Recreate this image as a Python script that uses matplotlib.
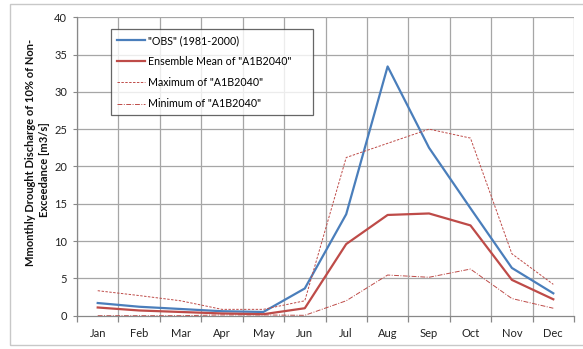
import matplotlib
matplotlib.use("Agg")
import matplotlib.pyplot as plt
from matplotlib.patches import Rectangle

plt.rcParams['font.family'] = ['Lato', 'DejaVu Sans']

months = ["Jan", "Feb", "Mar", "Apr", "May", "Jun", "Jul", "Aug", "Sep", "Oct", "Nov", "Dec"]
obs = [1.7, 1.2, 0.9, 0.6, 0.5, 3.65, 13.6, 33.4, 22.5, 14.4, 6.4, 3.0]
ens_mean = [1.1, 0.7, 0.5, 0.3, 0.2, 1.0, 9.6, 13.5, 13.7, 12.1, 4.8, 2.2]
ens_max = [3.35, 2.7, 2.0, 0.85, 0.85, 2.0, 21.2, 23.1, 25.0, 23.8, 8.3, 4.2]
ens_min = [0.0, 0.0, 0.0, 0.1, 0.1, 0.05, 2.0, 5.45, 5.15, 6.25, 2.3, 1.0]

W, H = 583, 349
fig = plt.figure(figsize=(W / 100, H / 100), dpi=100)
ax = fig.add_axes([77 / W, 1 - 315.7 / H, (574 - 77) / W, (315.7 - 17.2) / H])

# chart frame
fig.patches.append(Rectangle((10 / W, 4 / H), 1.0, 341 / H, transform=fig.transFigure,
                             fill=False, edgecolor="#c8c8c8", linewidth=1.0))

blue = "#4a7ebb"
red = "#be4b48"
x = list(range(len(months)))
ax.plot(x, obs, color=blue, lw=1.6, label='"OBS" (1981-2000)')
ax.plot(x, ens_mean, color=red, lw=1.6, label='Ensemble Mean of "A1B2040"')
ax.plot(x, ens_max, color=red, lw=0.7, ls=(0, (2.5, 1.5)), label='Maximum of "A1B2040"')
ax.plot(x, ens_min, color=red, lw=0.7, ls=(0, (5, 1.5, 1, 1.5)), label='Minimum of "A1B2040"')

ax.set_xlim(-0.5, 11.5)
ax.set_ylim(0, 40)
ax.set_yticks(range(0, 41, 5))
ax.set_xticks(x)
ax.set_xticklabels(months)
ax.set_xticks([i - 0.5 for i in range(13)], minor=True)

ax.grid(False)
for b in [i - 0.5 for i in range(13)]:
    ax.axvline(b, color="#a6a6a6", lw=0.9, zorder=0)
for v in range(5, 41, 5):
    ax.axhline(v, color="#a6a6a6", lw=0.9, zorder=0)

ax.tick_params(axis="x", which="major", length=0, labelsize=8, pad=9, colors="#222222")
ax.tick_params(axis="x", which="minor", length=4, color="#888888", width=0.9)
ax.tick_params(axis="y", length=3, color="#888888", labelsize=8, colors="#222222", pad=4)
for s in ["top", "right"]:
    ax.spines[s].set_visible(False)
for s in ["left", "bottom"]:
    ax.spines[s].set_color("#888888")
    ax.spines[s].set_linewidth(0.9)

# two-line y axis title
fig.text(31 / W, 1 - 152 / H, "Mmonthly Drought Discharge of 10% of Non-", rotation=90,
         fontsize=8, fontweight="bold", ha="center", va="center", color="#111111")
fig.text(45 / W, 1 - 170 / H, "Exceedance [m3/s]", rotation=90,
         fontsize=8, fontweight="bold", ha="center", va="center", color="#111111")

leg = ax.legend(loc="upper left", bbox_to_anchor=((111 - 77) / 497, (315.7 - 32) / 298.5, 202 / 497, 0.01),
                mode="expand", fontsize=7.7, frameon=True, fancybox=False, handlelength=2.6,
                handletextpad=0.3, borderpad=0.55, labelspacing=0.95, borderaxespad=0)
leg.get_frame().set_edgecolor("#404040")
leg.get_frame().set_linewidth(0.9)

fig.savefig("out.png", dpi=100)
